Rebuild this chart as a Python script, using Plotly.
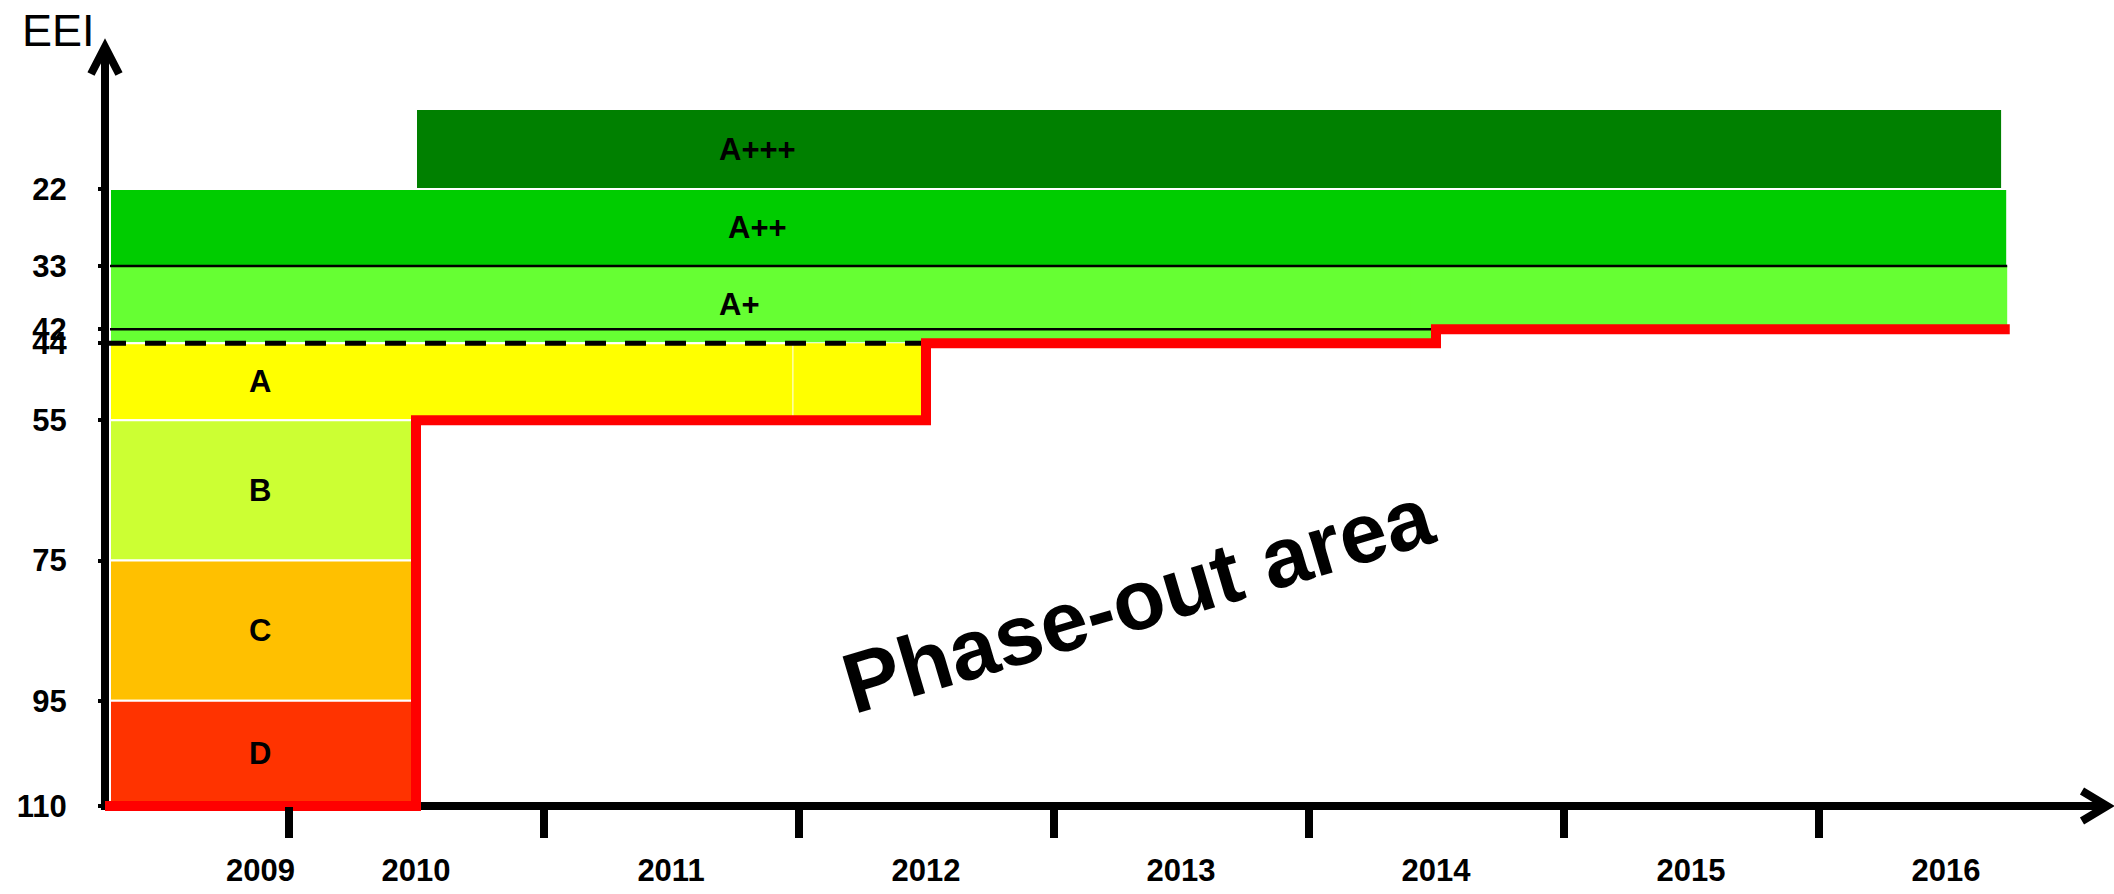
import plotly.graph_objects as go

# ---- data -----------------------------------------------------------------
# Energy-efficiency classes; the EEI axis runs downward (lower EEI = better class)
class_names = ["A+++", "A++", "A+", "A", "B", "C", "D"]
class_colors = ["#008000", "#00CC00", "#66FF33", "#FFFF00", "#CCFF33", "#FFC000", "#FF3300"]
class_label_year = [2011.34, 2011.34, 2011.27, 2009.39, 2009.39, 2009.39, 2009.39]

# Band segments: class, validity period (years) and EEI limits
seg_class = ["A+++", "A++", "A+", "A+", "A", "A", "B", "C", "D"]
seg_year_from = [2010.0, 2008.80, 2008.80, 2013.9, 2008.80, 2011.48, 2008.80, 2008.80, 2008.80]
seg_year_to = [2016.22, 2016.24, 2014.0, 2016.24, 2011.48, 2012.0, 2010.02, 2010.0, 2010.0]
seg_eei_top = [10.6, 22, 33, 33, 44, 44, 55, 75, 95]
seg_eei_bottom = [22, 33, 44, 42, 55, 55, 75, 95, 110]

# Class boundary lines
boundary_eei = [33, 42]
boundary_year_to = [2016.24, 2014.0]
threshold_eei = 44
threshold_year_to = 2012.0

# Minimum EEI requirement, stepped over time
limit_year = [2008.78, 2010, 2012, 2014, 2016.25]
limit_eei = [110, 55, 44, 42, 42]

# Axes
eei_ticks = [22, 33, 42, 44, 55, 75, 95, 110]
year_labels = ["2009", "2010", "2011", "2012", "2013", "2014", "2015", "2016"]
year_label_pos = [2009.39, 2010, 2011, 2012, 2013, 2014, 2015, 2016]
period_bounds = [2009.5, 2010.5, 2011.5, 2012.5, 2013.5, 2014.5, 2015.5]

X_RANGE = [2008.7804, 2016.6353]
Y_RANGE = [111.43, 1.746]

# ---- layout helpers (figure pixels -> paper fractions) ---------------------
W, H = 2114, 894
ML, MR, MT, MB = 105, 6, 47, 78
PW, PH = W - ML - MR, H - MT - MB


def px(x):
    return (x - ML) / PW


def py(y):
    return (H - MB - y) / PH


FONT = "Liberation Sans, Arial, sans-serif"
AXIS_Y = 806  # pixel row of the horizontal axis

fig = go.Figure()

shapes = []
# axis lines and arrow heads
shapes.append(dict(type="line", xref="paper", yref="paper", layer="below",
                   x0=px(105), x1=px(105), y0=py(AXIS_Y + 4), y1=py(48),
                   line=dict(color="black", width=8)))
shapes.append(dict(type="line", xref="paper", yref="paper", layer="below",
                   x0=px(101), x1=px(2107), y0=py(AXIS_Y), y1=py(AXIS_Y),
                   line=dict(color="black", width=8)))
shapes.append(dict(type="path", xref="paper", yref="paper", layer="below",
                   path=f"M{px(91)},{py(74)} L{px(105)},{py(47)} L{px(119)},{py(74)}",
                   line=dict(color="black", width=8)))
shapes.append(dict(type="path", xref="paper", yref="paper", layer="below",
                   path=f"M{px(2082)},{py(791)} L{px(2107)},{py(AXIS_Y)} L{px(2082)},{py(821)}",
                   line=dict(color="black", width=8)))

# class bands; a continuation segment of a class is drawn without outline
seen = set()
for c, x0, x1, y0, y1 in zip(seg_class, seg_year_from, seg_year_to, seg_eei_top, seg_eei_bottom):
    col = class_colors[class_names.index(c)]
    outline = 0 if c in seen else 2
    seen.add(c)
    shapes.append(dict(type="rect", xref="x", yref="y", layer="below",
                       x0=x0, x1=x1, y0=y0, y1=y1,
                       fillcolor=col, line=dict(color="white", width=outline)))

# class boundary lines
for e, xe in zip(boundary_eei, boundary_year_to):
    fig.add_trace(go.Scatter(x=[seg_year_from[1], xe], y=[e, e], mode="lines",
                             line=dict(color="black", width=2.5),
                             hoverinfo="skip", showlegend=False))
fig.add_trace(go.Scatter(x=[X_RANGE[0], threshold_year_to], y=[threshold_eei, threshold_eei],
                         mode="lines", line=dict(color="black", width=5, dash="21px,19px"),
                         hoverinfo="skip", showlegend=False))

# minimum requirement line
fig.add_trace(go.Scatter(x=limit_year, y=limit_eei, mode="lines",
                         line=dict(color="#FF0000", width=10, shape="hv"),
                         hoverinfo="skip", showlegend=False))

annotations = []
for name, lx in zip(class_names, class_label_year):
    tops = [t for c, t in zip(seg_class, seg_eei_top) if c == name]
    bots = [b for c, b in zip(seg_class, seg_eei_bottom) if c == name]
    annotations.append(dict(x=lx, y=(min(tops) + max(bots)) / 2, xref="x", yref="y",
                            text=name, showarrow=False,
                            font=dict(family=FONT, size=31, color="black", weight="bold")))

annotations.append(dict(x=2012.83, y=80.6, xref="x", yref="y", text="Phase-out area",
                        textangle=-16.5, showarrow=False,
                        font=dict(family=FONT, size=85, color="black", weight="bold")))

annotations.append(dict(x=px(58), y=py(30), xref="paper", yref="paper", text="EEI",
                        showarrow=False, xanchor="center", yanchor="middle",
                        font=dict(family=FONT, size=45, color="black")))

fig.update_layout(
    width=W, height=H,
    margin=dict(l=ML, r=MR, t=MT, b=MB, pad=0),
    paper_bgcolor="white", plot_bgcolor="white",
    showlegend=False,
    shapes=shapes,
    annotations=annotations,
    xaxis=dict(
        range=X_RANGE, showgrid=False, zeroline=False, showline=False,
        anchor="free", position=py(AXIS_Y),
        tickmode="array", tickvals=year_label_pos, ticktext=year_labels,
        ticks="", ticklabelstandoff=43,
        tickfont=dict(family=FONT, size=31, color="black", weight="bold"),
        minor=dict(tickmode="array", tickvals=period_bounds, ticks="outside",
                   ticklen=31, tickwidth=8, tickcolor="black", showgrid=False),
    ),
    yaxis=dict(
        range=Y_RANGE, showgrid=False, zeroline=False, showline=False,
        tickmode="array", tickvals=eei_ticks, ticktext=[str(v) for v in eei_ticks],
        ticks="outside", ticklen=6, tickwidth=4, tickcolor="black",
        ticklabelstandoff=25,
        tickfont=dict(family=FONT, size=31, color="black", weight="bold"),
    ),
)

fig.write_html("out.html")
